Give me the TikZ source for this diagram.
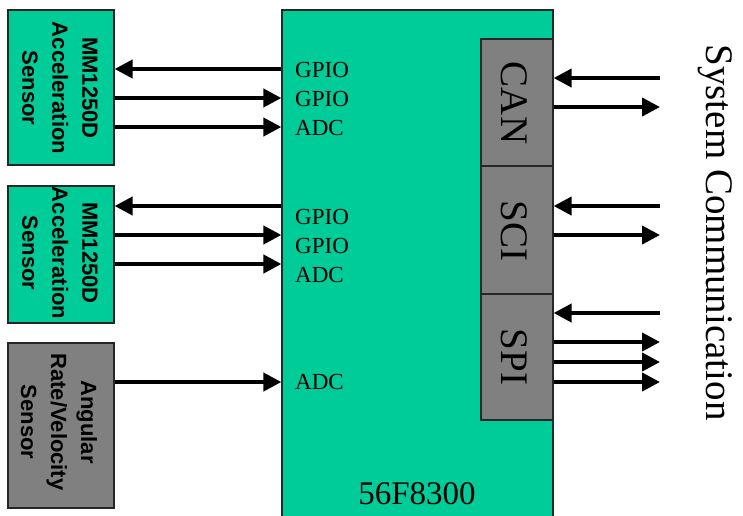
\documentclass[tikz,border=0pt]{standalone}
\usepackage{fontspec}
\setmainfont{Liberation Serif}
\setsansfont{Liberation Sans}
\usetikzlibrary{arrows.meta}
\definecolor{mcugreen}{RGB}{0,204,153}
\definecolor{periphgray}{RGB}{128,128,128}
\begin{document}
\begin{tikzpicture}[x=1pt,y=-1pt,
  box/.style={draw=black!85, line width=1.2pt, inner sep=0pt},
  grn/.style={box, fill=mcugreen},
  gry/.style={box, fill=periphgray},
  senstext/.style={rotate=-90, align=center, inner sep=0pt, font=\sffamily\bfseries\fontsize{22}{30}\selectfont},
  pintext/.style={anchor=west, inner sep=0pt, font=\fontsize{23}{23}\selectfont},
  periphtext/.style={rotate=-90, inner sep=0pt, font=\fontsize{39}{39}\selectfont},
  arr/.style={line width=4pt, -{Triangle[length=18pt,width=18pt]}}]
\useasboundingbox (0,0) rectangle (743,515);
% main controller
\node[grn, minimum width=271pt, minimum height=510pt] (mcu) at (417.5,265) {};
\node[inner sep=0pt, font=\fontsize{33}{33}\selectfont] (mcuname) at (417,494) {56F8300};
% peripherals
\node[gry, minimum width=72pt, minimum height=127pt] (can) at (517,102.5) {};
\node[gry, minimum width=72pt, minimum height=128pt] (sci) at (517,230) {};
\node[gry, minimum width=72pt, minimum height=126pt] (spi) at (517,357) {};
\node[periphtext] (cantxt) at (514,103) {CAN};
\node[periphtext] (scitxt) at (514,231) {SCI};
\node[periphtext] (spitxt) at (514,357) {SPI};
% sensors
\node[grn, minimum width=106pt, minimum height=155pt] (s1) at (61,87.5) {};
\node[grn, minimum width=106pt, minimum height=137pt] (s2) at (61,254.5) {};
\node[gry, minimum width=106pt, minimum height=165pt] (s3) at (61,425.5) {};
\node[senstext] (s1txt) at (60,88) {MM1250D\\Acceleration\\Sensor};
\node[senstext] (s2txt) at (60,253) {MM1250D\\Acceleration\\Sensor};
\node[senstext] (s3txt) at (59,422) {Angular\\Rate/Velocity\\Sensor};
% pin labels
\node[pintext] (p1) at (295,70) {GPIO};
\node[pintext] (p2) at (295,99) {GPIO};
\node[pintext] (p3) at (295,128) {ADC};
\node[pintext] (p4) at (295,217) {GPIO};
\node[pintext] (p5) at (295,246) {GPIO};
\node[pintext] (p6) at (295,275) {ADC};
\node[pintext] (p7) at (295,382) {ADC};
% sensor connections
\draw[arr] (mcu.west |- 0,69) -- (s1.east |- 0,69);
\draw[arr] (s1.east |- 0,98) -- (mcu.west |- 0,98);
\draw[arr] (s1.east |- 0,127) -- (mcu.west |- 0,127);
\draw[arr] (mcu.west |- 0,206) -- (s2.east |- 0,206);
\draw[arr] (s2.east |- 0,235) -- (mcu.west |- 0,235);
\draw[arr] (s2.east |- 0,264) -- (mcu.west |- 0,264);
\draw[arr] (s3.east |- 0,382) -- (mcu.west |- 0,382);
% system communication
\coordinate (c1) at (660,78);
\coordinate (c2) at (660,107);
\coordinate (c3) at (660,206);
\coordinate (c4) at (660,235);
\coordinate (c5) at (660,313);
\coordinate (c6) at (660,342);
\coordinate (c7) at (660,362);
\coordinate (c8) at (660,382);
\draw[arr] (c1) -- (can.east |- c1);
\draw[arr] (can.east |- c2) -- (c2);
\draw[arr] (c3) -- (sci.east |- c3);
\draw[arr] (sci.east |- c4) -- (c4);
\draw[arr] (c5) -- (spi.east |- c5);
\draw[arr] (spi.east |- c6) -- (c6);
\draw[arr] (spi.east |- c7) -- (c7);
\draw[arr] (spi.east |- c8) -- (c8);
\node[rotate=-90, inner sep=0pt, font=\fontsize{39}{39}\selectfont] (syscom) at (715,232.5) {System Communication};
\end{tikzpicture}
\end{document}
